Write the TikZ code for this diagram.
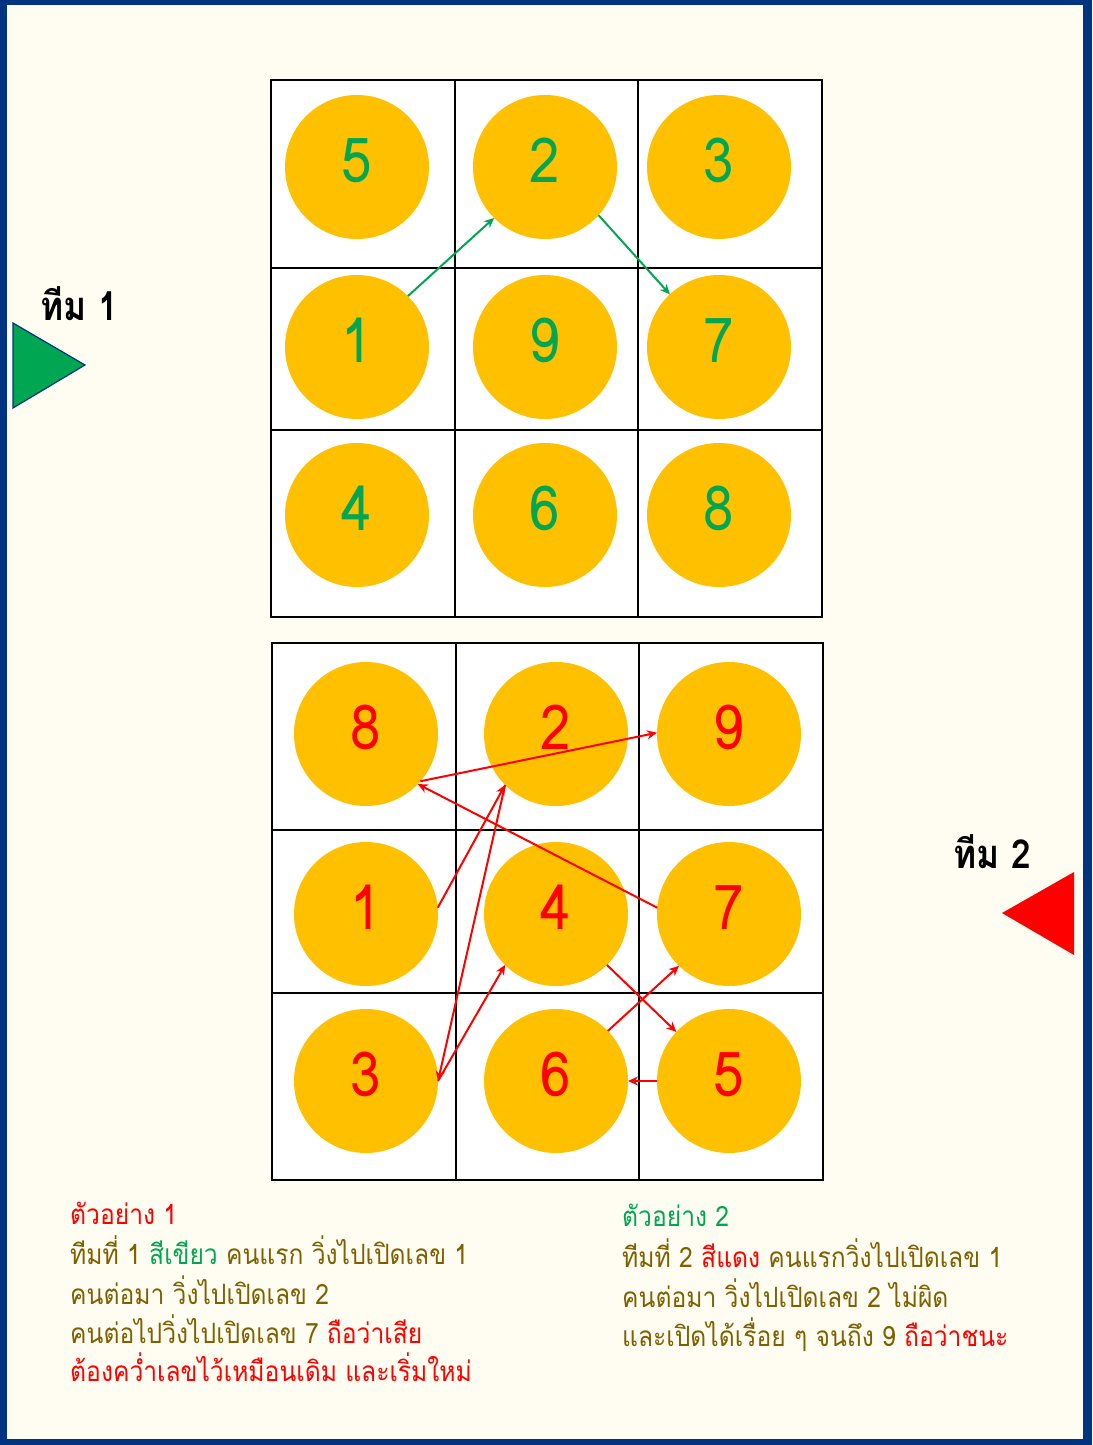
\documentclass[tikz,border=0pt]{standalone}
\usepackage{fontspec}
\newfontfamily\thaifont[Script=Thai]{Loma}
\newfontfamily\thainarrow[Script=Thai,FakeStretch=0.88]{Loma}
\usetikzlibrary{arrows.meta}
\definecolor{bord}{RGB}{0,51,128}
\definecolor{bgc}{RGB}{255,253,242}
\definecolor{discc}{RGB}{255,192,0}
\definecolor{grn}{RGB}{0,166,81}
\definecolor{rdc}{RGB}{255,0,0}
\definecolor{olv}{RGB}{127,96,0}
\begin{document}
\begin{tikzpicture}[x=1pt,y=-1pt,
  disc/.style={circle,fill=discc,minimum size=144pt,inner sep=0pt,outer sep=0pt,text height=30pt,text depth=0pt,font=\thainarrow\fontsize{62}{62}\selectfont},
  gdisc/.style={disc,text=grn},
  rdisc/.style={disc,text=rdc},
  garrow/.style={draw=grn,line width=2pt,-{Stealth[length=10pt,width=9pt]}},
  rarrow/.style={draw=rdc,line width=2pt,-{Stealth[length=10pt,width=9pt]}},
  gridbox/.style={fill=white,draw=black,line width=1.8pt},
  gridline/.style={draw=black,line width=1.8pt},
  txt/.style={anchor=base west,inner sep=0pt,text=olv,font=\thainarrow\fontsize{28}{34}\selectfont},
  team/.style={anchor=base west,inner sep=0pt,text=black,font=\thainarrow\bfseries\fontsize{40}{44}\selectfont}]
% page
\fill[bord] (0,0) rectangle (1092,1445);
\fill[bgc] (7,5) rectangle (1083,1439);
\useasboundingbox (0,0) rectangle (1092,1445);
% top grid
\path[gridbox] (271,80) rectangle (822,617);
\draw[gridline] (455,80) -- (455,617) (638,80) -- (638,617) (271,268) -- (822,268) (271,430) -- (822,430);
% bottom grid
\path[gridbox] (272,643) rectangle (823,1180);
\draw[gridline] (456,643) -- (456,1180) (639,643) -- (639,1180) (272,830) -- (823,830) (272,993) -- (823,993);
% top discs
\node[gdisc] (t5) at (357,167) {5};
\node[gdisc] (t2) at (545,167) {2};
\node[gdisc] (t3) at (719,167) {3};
\node[gdisc] (t1) at (357,347) {1};
\node[gdisc] (t9) at (545,347) {9};
\node[gdisc] (t7) at (719,347) {7};
\node[gdisc] (t4) at (357,515) {4};
\node[gdisc] (t6) at (545,515) {6};
\node[gdisc] (t8) at (719,515) {8};
% bottom discs
\node[rdisc] (b8) at (366,734) {8};
\node[rdisc] (b2) at (556,734) {2};
\node[rdisc] (b9) at (729,734) {9};
\node[rdisc] (b1) at (366,914) {1};
\node[rdisc] (b4) at (556,914) {4};
\node[rdisc] (b7) at (729,914) {7};
\node[rdisc] (b3) at (366,1081) {3};
\node[rdisc] (b6) at (556,1081) {6};
\node[rdisc] (b5) at (729,1081) {5};
% green arrows
\draw[garrow] (t1.45) -- (t2.225);
\draw[garrow] (t2.-42) -- (t7.133);
% red arrows
\draw[rarrow] (b1.5) -- (b2.225);
\draw[rarrow] (b2.225) -- (b3.0);
\draw[rarrow] (b3.0) -- (b4.225);
\draw[rarrow] (b4.-45) -- (b5.137);
\draw[rarrow] (b5.180) -- (b6.0);
\draw[rarrow] (b6.44) -- (b7.226);
\draw[rarrow] (b7.175) -- (b8.-44);
\draw[rarrow] (b8.-41) -- (b9.179);
% teams
\node[team] (team1) at (40,320) {ทีม 1};
\node[team] (team2) at (953,868) {ทีม 2};
\filldraw[fill=grn,draw=bord,line width=1.2pt] (13,323) -- (85,365) -- (13,408) -- cycle;
\fill[rdc] (1002,913) -- (1074,872) -- (1074,955) -- cycle;
% example 1
\node[txt] (e1a) at (70,1224) {\textcolor{rdc}{ตัวอย่าง 1}};
\node[txt] (e1b) at (70,1264) {ทีมที่ 1 \textcolor{grn}{สีเขียว} คนแรก วิ่งไปเปิดเลข 1};
\node[txt] (e1c) at (70,1304) {คนต่อมา วิ่งไปเปิดเลข 2};
\node[txt] (e1d) at (70,1343) {คนต่อไปวิ่งไปเปิดเลข 7 \textcolor{rdc}{ถือว่าเสีย}};
\node[txt] (e1e) at (70,1381) {\textcolor{rdc}{ต้องคว่ำเลขไว้เหมือนเดิม และเริ่มใหม่}};
% example 2
\node[txt] (e2a) at (622,1226) {\textcolor{grn}{ตัวอย่าง 2}};
\node[txt] (e2b) at (622,1267) {ทีมที่ 2 \textcolor{rdc}{สีแดง} คนแรกวิ่งไปเปิดเลข 1};
\node[txt] (e2c) at (622,1307) {คนต่อมา วิ่งไปเปิดเลข 2 ไม่ผิด};
\node[txt] (e2d) at (622,1346) {และเปิดได้เรื่อย ๆ จนถึง 9 \textcolor{rdc}{ถือว่าชนะ}};
\end{tikzpicture}
\end{document}
